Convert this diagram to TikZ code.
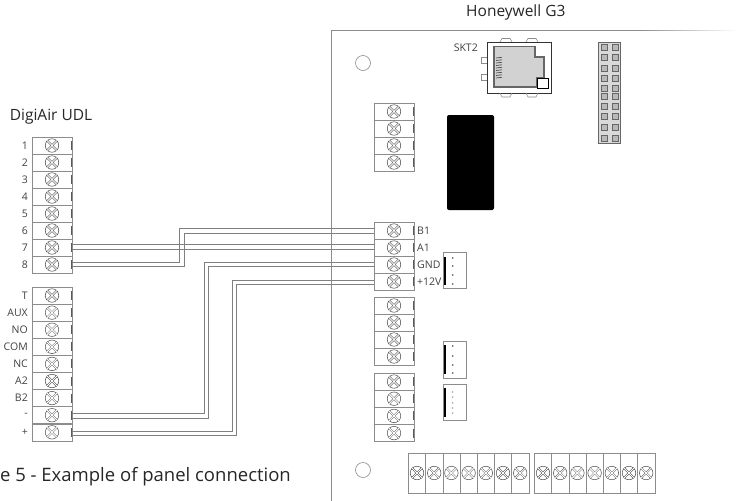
\documentclass[tikz,border=0pt]{standalone}
\usepackage{fontspec}
\setmainfont{Open Sans}
\usepackage{tikz}
\definecolor{boardgrey}{gray}{0.55}
\definecolor{wiregrey}{gray}{0.5}
\definecolor{labelgrey}{gray}{0.25}
\tikzset{
  termcell/.style={draw=boardgrey,line width=0.6pt,minimum width=40pt,minimum height=17pt,inner sep=0pt,outer sep=0pt},
  screwhead/.style={draw=black!70,line width=0.5pt,circle,minimum size=13.5pt,inner sep=0pt},
  screwbar/.style={draw=black!70,line width=0.4pt,double=white,double distance=1pt},
  termlabel/.style={font=\fontsize{10.5}{10.5}\selectfont,text=labelgrey,inner sep=0pt},
  titlelabel/.style={font=\fontsize{15.5}{15.5}\selectfont,text=black!85,inner sep=0pt},
  wirepair/.style={draw=wiregrey,line width=0.6pt},
  plugbox/.style={draw=boardgrey,line width=0.6pt,minimum width=23pt,inner sep=0pt},
  hole/.style={draw=boardgrey,line width=0.6pt,circle,minimum size=15pt,inner sep=0pt}
}
% one terminal cell: name, x of left edge, y of top edge
\newcommand{\termcell}[3]{
  \node[termcell,anchor=north west] (#1) at (#2,#3) {};
  \node[screwhead] (#1s) at (#1.center) {};
  \draw[screwbar] (#1s.45) -- (#1s.225) (#1s.135) -- (#1s.315);
  \draw[black!65,line width=0.8pt] ([xshift=-1pt,yshift=-4pt]#1.north east) -- ([xshift=-1pt,yshift=4pt]#1.south east);
}
\begin{document}
\begin{tikzpicture}[x=1pt,y=-1pt]
\useasboundingbox (0,0) rectangle (737,501);
% board
\draw[boardgrey,line width=0.8pt] (640,30.5) -- (331.5,30.5) -- (331.5,501);
\shade[left color=boardgrey,right color=white] (640,30.1) rectangle (737,30.9);
\node[titlelabel,anchor=west] (boardtitle) at (466,12) {Honeywell G3};
\node[hole] (holea) at (363,63) {};
\node[hole] (holeb) at (363,470) {};
% left terminals
\node[titlelabel] (udltitle) at (51,117) {DigiAir UDL};
\foreach \i/\lab in {0/1,1/2,2/3,3/4,4/5,5/6,6/7,7/8}{
  \termcell{u\i}{32}{137+17*\i}
  \node[termlabel,anchor=east] (ul\i) at (28,145.5+17*\i) {\lab};
}
\foreach \i/\lab in {0/T,1/AUX,2/NO,3/COM,4/NC,5/A2,6/B2,7/-,8/+}{
  \termcell{v\i}{32}{287+17.1*\i}
  \node[termlabel,anchor=east] (vl\i) at (28,295.5+17.1*\i) {\lab};
}
% right terminals
\foreach \i in {0,1,2,3}{
  \termcell{a\i}{374}{103+17*\i}
  \termcell{b\i}{374}{222+17*\i}
  \termcell{c\i}{374}{297+17*\i}
  \termcell{d\i}{374}{373+17.2*\i}
}
\node[termlabel,anchor=west] (lb1) at (417,230.5) {B1};
\node[termlabel,anchor=west] (la1) at (417,247.5) {A1};
\node[termlabel,anchor=west] (lgnd) at (417,264.5) {GND};
\node[termlabel,anchor=west] (lpwr) at (417,281.5) {+12V};
% bottom terminals
\foreach \i in {0,...,6}{
  \node[termcell,minimum width=17.2pt,minimum height=40pt,anchor=north west] (e\i) at (408.5+17.2*\i,453) {};
  \node[screwhead] (e\i s) at (417+17.2*\i,473) {};
  \draw[screwbar] (e\i s.45) -- (e\i s.225) (e\i s.135) -- (e\i s.315);
  \node[termcell,minimum width=17.2pt,minimum height=40pt,anchor=north west] (f\i) at (534.5+17.2*\i,453) {};
  \node[screwhead] (f\i s) at (543+17.2*\i,473) {};
  \draw[screwbar] (f\i s.45) -- (f\i s.225) (f\i s.135) -- (f\i s.315);
}
% wires
\draw[wirepair] (u6.east |- 0,244.5) -- (a0.west |- 0,244.5);
\draw[wirepair] (u6.east |- 0,249.5) -- (a0.west |- 0,249.5);
\draw[wirepair] (u7.east |- 0,262) -- (179,262) -- (179,228) -- (b0.west |- 0,228);
\draw[wirepair] (u7.east |- 0,266) -- (184,266) -- (184,233) -- (b0.west |- 0,233);
\draw[wirepair] (v7.east |- 0,413.5) -- (204,413.5) -- (204,262) -- (b2.west |- 0,262);
\draw[wirepair] (v7.east |- 0,418) -- (208,418) -- (208,266) -- (b2.west |- 0,266);
\draw[wirepair] (v8.east |- 0,431) -- (232,431) -- (232,280) -- (b3.west |- 0,280);
\draw[wirepair] (v8.east |- 0,435) -- (236,435) -- (236,284) -- (b3.west |- 0,284);
% plugs
\node[plugbox,minimum height=36pt,anchor=north west] (plugx) at (443,252) {};
\fill[black] (443.5,257) rectangle (446,285);
\node[plugbox,minimum height=37pt,anchor=north west] (plugy) at (443,341) {};
\fill[black] (443.5,345) rectangle (446,374);
\node[plugbox,minimum height=36pt,anchor=north west] (plugz) at (443,384) {};
\fill[black] (443.5,388) rectangle (446,417);
\foreach \yy in {258,266,275,284}{\fill[black!70] (452.7,\yy) circle (0.9pt);}
\foreach \yy in {346,356,365,373}{\fill[black!70] (452.7,\yy) circle (0.9pt);}
\foreach \yy in {392,397,403,408,413}{\fill[black!70] (452.7,\yy) circle (0.6pt);}
% black block
\fill[black,rounded corners=2pt] (447,115) rectangle (494,210);
% socket
\node[termlabel,anchor=east] (sktlabel) at (478,48) {SKT2};
\draw[black!80,line width=0.8pt] (487,42) rectangle (551,93);
\draw[boardgrey,line width=0.6pt] (487,57) -- (481,57) -- (481,63) -- (487,63) (487,74) -- (481,74) -- (481,80) -- (487,80);
\foreach \xx in {500,526}{
  \draw[boardgrey,line width=0.6pt] (\xx,42) -- (\xx+2,38.5) -- (\xx+10,38.5) -- (\xx+12,42);
  \draw[boardgrey,line width=0.6pt] (\xx,93) -- (\xx+2,97) -- (\xx+10,97) -- (\xx+12,93);
}
\fill[gray!35,draw=black!60,line width=1.2pt] (494,46.5) -- (535,46.5) -- (535,57) -- (544,57) -- (544,78) -- (537,78) -- (537,87) -- (494,87) -- cycle;
\foreach \yy in {58,60.5,...,80}{\draw[black!70,line width=0.7pt] (496,\yy) -- (502,\yy-0.7);}
\draw[black,line width=0.9pt,fill=white] (537,78) rectangle (548,88);
% header
\fill[gray!30] (598,42) rectangle (620,143);
\draw[black!60,line width=0.5pt] (598,42) rectangle (620,143);
\foreach \yy in {44,54,65,75,85,93,103,113,124,135}{
  \draw[black!60,line width=0.5pt,fill=gray!55] (601,\yy) rectangle (607,\yy+6);
  \draw[black!60,line width=0.5pt,fill=gray!55] (612,\yy) rectangle (618,\yy+6);
}
% caption
\node[titlelabel,anchor=east,font=\fontsize{18.5}{18.5}\selectfont] (caption) at (291,477) {Figure 5 - Example of panel connection};
\end{tikzpicture}
\end{document}
